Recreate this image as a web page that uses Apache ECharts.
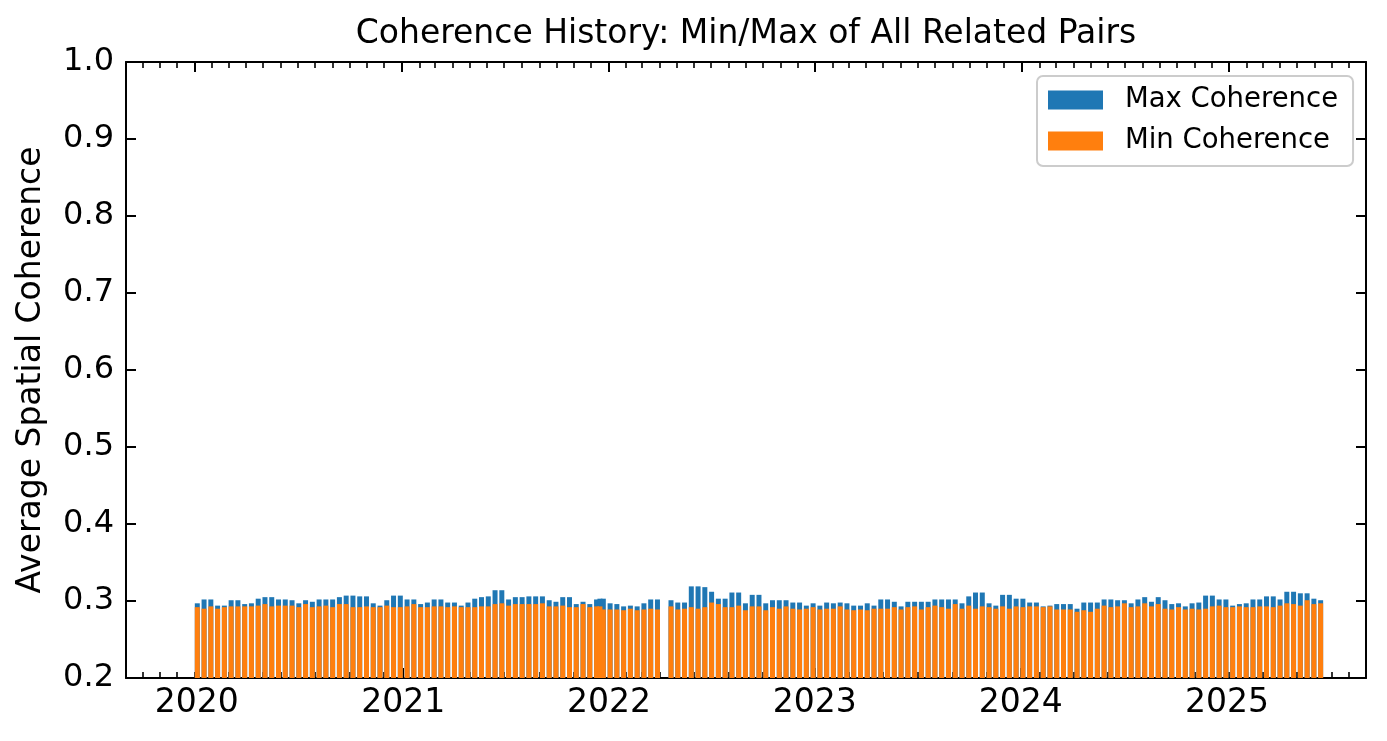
<!DOCTYPE html>
<html>
<head>
<meta charset="utf-8">
<script src="https://cdn.jsdelivr.net/npm/echarts@6/dist/echarts.min.js"></script>
<style>
html,body{margin:0;padding:0;background:#ffffff;}
#chart{width:1387px;height:741px;}
</style>
</head>
<body>
<div id="chart"></div>
<script>
// Acquisition dates (12-day repeat; one extra on 2021-12-16, none on 2022-04-09)
const dates = [
'2020-01-02','2020-01-14','2020-01-26','2020-02-07','2020-02-19','2020-03-02','2020-03-14','2020-03-26','2020-04-07','2020-04-19',
'2020-05-01','2020-05-13','2020-05-25','2020-06-06','2020-06-18','2020-06-30','2020-07-12','2020-07-24','2020-08-05','2020-08-17',
'2020-08-29','2020-09-10','2020-09-22','2020-10-04','2020-10-16','2020-10-28','2020-11-09','2020-11-21','2020-12-03','2020-12-15',
'2020-12-27','2021-01-08','2021-01-20','2021-02-01','2021-02-13','2021-02-25','2021-03-09','2021-03-21','2021-04-02','2021-04-14',
'2021-04-26','2021-05-08','2021-05-20','2021-06-01','2021-06-13','2021-06-25','2021-07-07','2021-07-19','2021-07-31','2021-08-12',
'2021-08-24','2021-09-05','2021-09-17','2021-09-29','2021-10-11','2021-10-23','2021-11-04','2021-11-16','2021-11-28','2021-12-10',
'2021-12-16','2021-12-22','2022-01-03','2022-01-15','2022-01-27','2022-02-08','2022-02-20','2022-03-04','2022-03-16','2022-03-28',
'2022-04-21','2022-05-03','2022-05-15','2022-05-27','2022-06-08','2022-06-20','2022-07-02','2022-07-14','2022-07-26','2022-08-07',
'2022-08-19','2022-08-31','2022-09-12','2022-09-24','2022-10-06','2022-10-18','2022-10-30','2022-11-11','2022-11-23','2022-12-05',
'2022-12-17','2022-12-29','2023-01-10','2023-01-22','2023-02-03','2023-02-15','2023-02-27','2023-03-11','2023-03-23','2023-04-04',
'2023-04-16','2023-04-28','2023-05-10','2023-05-22','2023-06-03','2023-06-15','2023-06-27','2023-07-09','2023-07-21','2023-08-02',
'2023-08-14','2023-08-26','2023-09-07','2023-09-19','2023-10-01','2023-10-13','2023-10-25','2023-11-06','2023-11-18','2023-11-30',
'2023-12-12','2023-12-24','2024-01-05','2024-01-17','2024-01-29','2024-02-10','2024-02-22','2024-03-05','2024-03-17','2024-03-29',
'2024-04-10','2024-04-22','2024-05-04','2024-05-16','2024-05-28','2024-06-09','2024-06-21','2024-07-03','2024-07-15','2024-07-27',
'2024-08-08','2024-08-20','2024-09-01','2024-09-13','2024-09-25','2024-10-07','2024-10-19','2024-10-31','2024-11-12','2024-11-24',
'2024-12-06','2024-12-18','2024-12-30','2025-01-11','2025-01-23','2025-02-04','2025-02-16','2025-02-28','2025-03-12','2025-03-24',
'2025-04-05','2025-04-17','2025-04-29','2025-05-11','2025-05-23','2025-06-04','2025-06-16'
];

const maxCoherence = [
0.297,0.302,0.302,0.294,0.294,0.301,0.301,0.296,0.297,0.303,
0.305,0.305,0.302,0.302,0.301,0.297,0.301,0.299,0.302,0.302,
0.302,0.305,0.307,0.307,0.306,0.306,0.297,0.294,0.301,0.307,
0.307,0.302,0.302,0.296,0.298,0.302,0.302,0.298,0.298,0.294,
0.298,0.303,0.305,0.306,0.314,0.314,0.302,0.305,0.305,0.306,
0.306,0.306,0.301,0.299,0.305,0.305,0.296,0.299,0.296,0.302,
0.303,0.303,0.297,0.296,0.293,0.294,0.293,0.297,0.302,0.302,
0.301,0.298,0.298,0.319,0.319,0.318,0.312,0.303,0.303,0.311,
0.311,0.297,0.308,0.308,0.297,0.301,0.301,0.301,0.298,0.298,
0.294,0.297,0.294,0.298,0.297,0.298,0.297,0.294,0.294,0.297,
0.294,0.302,0.302,0.299,0.293,0.299,0.299,0.299,0.299,0.302,
0.302,0.302,0.302,0.297,0.306,0.311,0.311,0.297,0.294,0.308,
0.308,0.303,0.303,0.298,0.298,0.293,0.294,0.296,0.296,0.296,
0.290,0.298,0.298,0.298,0.302,0.302,0.301,0.301,0.297,0.302,
0.305,0.299,0.305,0.301,0.296,0.297,0.293,0.297,0.298,0.307,
0.307,0.302,0.302,0.294,0.296,0.297,0.302,0.302,0.306,0.306,
0.302,0.312,0.312,0.310,0.310,0.303,0.301
];

const minCoherence = [
0.292,0.290,0.293,0.290,0.292,0.293,0.293,0.293,0.293,0.294,
0.296,0.293,0.294,0.294,0.294,0.292,0.296,0.292,0.293,0.294,
0.292,0.296,0.296,0.292,0.292,0.293,0.292,0.292,0.294,0.292,
0.292,0.293,0.296,0.292,0.292,0.293,0.293,0.292,0.293,0.292,
0.292,0.292,0.293,0.293,0.296,0.297,0.294,0.296,0.296,0.296,
0.296,0.297,0.293,0.293,0.294,0.292,0.292,0.296,0.292,0.293,
0.293,0.289,0.289,0.289,0.288,0.290,0.288,0.289,0.290,0.289,
0.293,0.289,0.290,0.292,0.290,0.292,0.298,0.296,0.292,0.292,
0.294,0.288,0.293,0.293,0.288,0.292,0.290,0.293,0.290,0.289,
0.290,0.292,0.289,0.290,0.290,0.293,0.289,0.288,0.289,0.288,
0.290,0.290,0.290,0.292,0.289,0.292,0.293,0.289,0.292,0.294,
0.292,0.290,0.296,0.290,0.294,0.290,0.293,0.292,0.290,0.293,
0.290,0.293,0.292,0.293,0.293,0.292,0.293,0.289,0.289,0.289,
0.286,0.288,0.286,0.290,0.294,0.292,0.293,0.297,0.292,0.293,
0.297,0.293,0.296,0.290,0.289,0.292,0.289,0.290,0.289,0.290,
0.293,0.294,0.292,0.292,0.293,0.292,0.292,0.293,0.293,0.292,
0.294,0.297,0.296,0.294,0.301,0.296,0.297
];

const seriesNames = ['Max Coherence', 'Min Coherence'];
const seriesColors = ['#1f77b4', '#ff7f0e'];
const titleText = 'Coherence History: Min/Max of All Related Pairs';
const yAxisTitle = 'Average Spatial Coherence';
const xRange = ['2019-09-02', '2025-08-31'];
const yRange = [0.2, 1.0];
const yStep = 0.1;

const DAY = 86400000;
const FONT = 'DejaVu Sans';
const black = '#000000';

const chart = echarts.init(document.getElementById('chart'), null, {renderer: 'canvas'});

function yearLabel(v) {
  const d = new Date(v);
  return (d.getMonth() === 0 && d.getDate() === 1) ? String(d.getFullYear()) : '';
}

function xAxisDef(pos, major) {
  return {
    type: 'time',
    position: pos,
    min: xRange[0],
    max: xRange[1],
    minInterval: major ? 365 * DAY : 28 * DAY,
    maxInterval: major ? 366 * DAY : 31 * DAY,
    axisLine: {show: major, onZero: false, lineStyle: {color: black, width: 2}},
    axisTick: {show: true, inside: true, length: major ? 10 : 6, lineStyle: {color: black, width: major ? 2 : 1.6}},
    axisLabel: {
      show: major && pos === 'bottom',
      formatter: yearLabel,
      fontSize: 33, fontFamily: FONT, color: black, margin: 9,
      hideOverlap: false
    },
    splitLine: {show: false},
    axisPointer: {show: false}
  };
}

function yAxisDef(pos) {
  const left = pos === 'left';
  return {
    type: 'value',
    position: pos,
    min: yRange[0],
    max: yRange[1],
    interval: yStep,
    axisLine: {show: true, onZero: false, lineStyle: {color: black, width: 2}},
    axisTick: {show: true, inside: true, length: 10, lineStyle: {color: black, width: 2}},
    axisLabel: {
      show: left,
      formatter: v => v.toFixed(1),
      fontSize: 32, fontFamily: FONT, color: black, margin: 12
    },
    splitLine: {show: false},
    name: left ? yAxisTitle : '',
    nameLocation: 'middle',
    nameGap: 78,
    nameTextStyle: {fontSize: 33, fontFamily: FONT, color: black}
  };
}

const option = {
  animation: false,
  backgroundColor: '#ffffff',
  title: {
    text: titleText,
    left: 746,
    textAlign: 'center',
    top: 18,
    padding: 0,
    textStyle: {fontSize: 33, fontWeight: 'normal', fontFamily: FONT, color: black}
  },
  legend: {
    data: seriesNames,
    orient: 'vertical',
    left: 1037,
    top: 76,
    padding: [10, 15, 11, 11],
    itemWidth: 55,
    itemHeight: 19,
    itemGap: 13,
    icon: 'rect',
    selectedMode: false,
    backgroundColor: 'rgba(255,255,255,0.8)',
    borderColor: '#cccccc',
    borderWidth: 2,
    borderRadius: 6,
    textStyle: {fontSize: 27.5, fontFamily: FONT, color: black, padding: [0, 0, 0, 17]}
  },
  grid: {left: 126, right: 21, top: 62, bottom: 63, containLabel: false},
  xAxis: [xAxisDef('bottom', true), xAxisDef('bottom', false), xAxisDef('top', true), xAxisDef('top', false)],
  yAxis: [yAxisDef('left'), yAxisDef('right')],
  series: [
    {
      name: seriesNames[0], type: 'bar', xAxisIndex: 0, yAxisIndex: 0,
      barWidth: 5, barGap: '-100%',
      itemStyle: {color: seriesColors[0]},
      data: dates.map((d, i) => [d, maxCoherence[i]])
    },
    {
      name: seriesNames[1], type: 'bar', xAxisIndex: 0, yAxisIndex: 0,
      barWidth: 5, barGap: '-100%',
      itemStyle: {color: seriesColors[1]},
      data: dates.map((d, i) => [d, minCoherence[i]])
    }
  ]
};
chart.setOption(option);
</script>
</body>
</html>
